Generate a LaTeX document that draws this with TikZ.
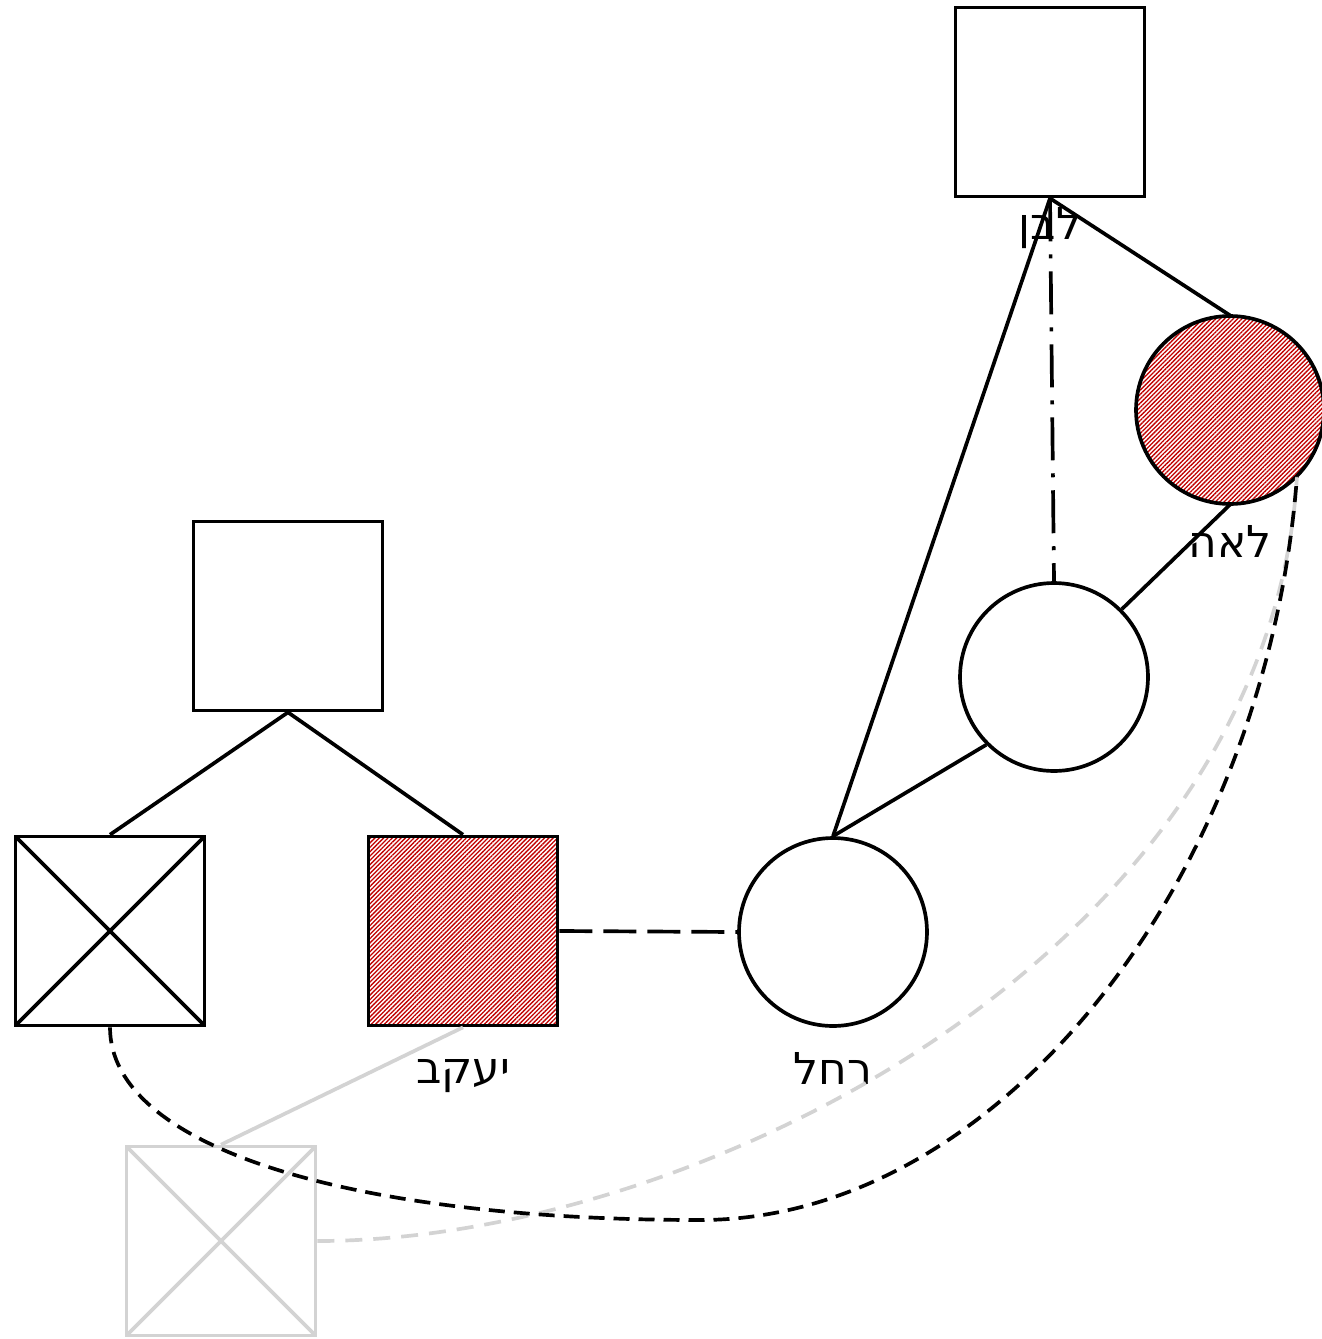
\documentclass[tikz,border=0pt]{standalone}
\usepackage{fontspec}
\newfontfamily\hebfont[Script=Hebrew]{DejaVu Sans}
\TeXXeTstate=1
\usetikzlibrary{positioning,patterns.meta}
\definecolor{hatchred}{HTML}{C00000}
\definecolor{ghostgray}{HTML}{D3D3D3}

\begin{document}
\begin{tikzpicture}[
 x=0.02cm, y=-0.02cm,
 male/.style={rectangle, draw, line width=2.1pt, minimum size=3.78cm, inner sep=0pt},
 female/.style={circle, draw, line width=2.1pt, minimum size=3.76cm, inner sep=0pt},
 hatched/.style={pattern={Lines[angle=45, distance=1.75pt, line width=0.75pt]}, pattern color=hatchred},
 dead/.style={path picture={\draw[line width=2.1pt, #1] (path picture bounding box.north west) -- (path picture bounding box.south east) (path picture bounding box.south west) -- (path picture bounding box.north east);}},
 dead/.default=black,
 ghost/.style={draw=ghostgray},
 kin/.style={line width=2.1pt},
 couple/.style={kin, dash pattern=on 0.66cm off 0.22cm},
 sibdash/.style={kin, dash pattern=on 0.86cm off 0.26cm on 0.08cm off 0.26cm},
 curvedash/.style={kin, dash pattern=on 0.32cm off 0.18cm},
 ghostline/.style={kin, draw=ghostgray},
 tag/.style={font=\hebfont\fontsize{25}{30}\selectfont, inner sep=0pt, text height=0.7cm, text depth=0.2cm}
 ]
 \useasboundingbox (0,0) rectangle (1322,1339);

 % Laban's side
 \node[male] (laban) at (1050,102) {};
 \node[female, hatched] (leah) at (1230,410) {};
 \node[female] (sister) at (1054,677) {};
 \node[female] (rachel) at (833,932) {};

 % Jacob's side
 \node[male] (father) at (288,616) {};
 \node[male, dead] (brother) at (110,931) {};
 \node[male, hatched] (jacob) at (463,931) {};
 \node[male, ghost, dead=ghostgray] (ghostson) at (221,1241) {};

 % Names
 \node[tag, below=0.12cm of laban] (tlaban) {\beginR לבן\endR};
 \node[tag, below=0.36cm of leah] (tleah) {\beginR לאה\endR};
 \node[tag, below=0.42cm of rachel] (trachel) {\beginR רחל\endR};
 \node[tag, below=0.42cm of jacob] (tjacob) {\beginR יעקב\endR};

 \coordinate (low) at (700,1220);

 % Grey links
 \draw[ghostline] (jacob.south) -- (ghostson.north);
 \draw[ghostline, dash pattern=on 0.34cm off 0.22cm] (ghostson.east) .. controls +(384,0) and +(-28,472) .. (leah.south east);

 % Links
 \draw[kin] (laban.south) -- (leah.north);
 \draw[kin] (laban.south) -- (rachel.north);
 \draw[sibdash] (laban.south) -- (sister.north);
 \draw[kin] (leah.south) -- (sister.north east);
 \draw[kin] (sister.south west) -- (rachel.north);
 \draw[kin] (father.south) -- (brother.north);
 \draw[kin] (father.south) -- (jacob.north);
 \draw[couple] (jacob.east) -- (rachel.west);
 \draw[curvedash] (brother.south) .. controls +(0,120) and +(-350,0) .. (low) .. controls +(300,0) and +(-30,400) .. (leah.south east);
\end{tikzpicture}
\end{document}
